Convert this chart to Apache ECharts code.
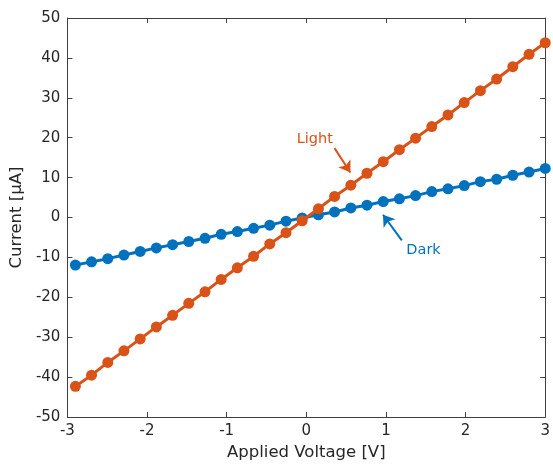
<!DOCTYPE html>
<html>
<head>
<meta charset="utf-8">
<script src="https://cdn.jsdelivr.net/npm/echarts@6/dist/echarts.min.js"></script>
<style>
html,body{margin:0;padding:0;background:#fff;}
#chart{width:553px;height:466px;}
</style>
</head>
<body>
<div id="chart"></div>
<script>
const voltage = [-2.900, -2.697, -2.493, -2.290, -2.086, -1.883, -1.679, -1.476, -1.272, -1.069,
                 -0.866, -0.662, -0.459, -0.255, -0.052, 0.152, 0.355, 0.559, 0.762, 0.966,
                 1.169, 1.372, 1.576, 1.779, 1.983, 2.186, 2.390, 2.593, 2.797, 3.000];
const lightCurrent = [-42.3, -39.5, -36.3, -33.4, -30.4, -27.4, -24.5, -21.5, -18.6, -15.5,
                      -12.6, -9.7, -6.6, -3.8, -0.8, 2.2, 5.3, 8.1, 11.1, 14.0,
                      17.0, 19.9, 22.8, 25.7, 28.8, 31.8, 34.7, 37.8, 40.9, 43.8];
const darkCurrent = [-11.9, -11.1, -10.3, -9.4, -8.5, -7.6, -6.8, -6.0, -5.2, -4.2,
                     -3.5, -2.7, -1.9, -0.9, -0.1, 0.7, 1.4, 2.4, 3.1, 4.0,
                     4.7, 5.5, 6.5, 7.2, 8.0, 9.0, 9.6, 10.6, 11.4, 12.3];
const xTicks = [-3, -2, -1, 0, 1, 2, 3];
const yTicks = [-50, -40, -30, -20, -10, 0, 10, 20, 30, 40, 50];
const seriesNames = ['Light', 'Dark'];
const lightArrow = [[0.354, 17.4], [0.553, 11.3]];
const darkArrow = [[1.199, -5.7], [0.963, 0.7]];
const lightLabelPos = [0.106, 19.6];
const darkLabelPos = [1.472, -8.2];

const ORANGE = '#D95319', BLUE = '#0072BD', AX = '#404040', TXT = '#262626';
const FONT = 'DejaVu Sans';

function pairs(xs, ys){ return xs.map((x,i)=>[x, ys[i]]); }

const axisCommon = {
  axisLine: {show:true, onZero:false, lineStyle:{color:AX, width:1}},
  axisTick: {show:true, inside:true, length:5, lineStyle:{color:AX}},
  splitLine: {show:false}
};

function arrowLine(color, pts){
  return {
    silent:true, symbol:['none','arrow'], symbolSize:11, symbolKeepAspect:true,
    lineStyle:{color:color, width:2, type:'solid'}, itemStyle:{color:color},
    label:{show:false}, emphasis:{disabled:true},
    data:[[{coord:pts[0], symbol:'none'}, {coord:pts[1], symbol:'arrow', symbolSize:11, itemStyle:{color:color}}]]
  };
}

const chart = echarts.init(document.getElementById('chart'));
chart.setOption({
  animation: false,
  backgroundColor: '#fff',
  grid: {left:65, right:5, top:18, bottom:43, containLabel:false},
  xAxis: [
    Object.assign({}, axisCommon, {
      type:'value', min:xTicks[0], max:xTicks[xTicks.length-1], interval:1, position:'bottom',
      name:'Applied Voltage [V]', nameLocation:'middle', nameGap:26,
      nameTextStyle:{fontFamily:FONT, fontSize:16.5, color:TXT},
      axisLabel:{fontFamily:FONT, fontSize:15, color:TXT, margin:7}
    }),
    Object.assign({}, axisCommon, {
      type:'value', min:xTicks[0], max:xTicks[xTicks.length-1], interval:1, position:'top',
      axisLabel:{show:false}
    })
  ],
  yAxis: [
    Object.assign({}, axisCommon, {
      type:'value', min:yTicks[0], max:yTicks[yTicks.length-1], interval:10, position:'left',
      name:'Current [μA]', nameLocation:'middle', nameGap:32,
      nameTextStyle:{fontFamily:FONT, fontSize:16.5, color:TXT},
      axisLabel:{fontFamily:FONT, fontSize:15, color:TXT, margin:7}
    }),
    Object.assign({}, axisCommon, {
      type:'value', min:yTicks[0], max:yTicks[yTicks.length-1], interval:10, position:'right',
      axisLabel:{show:false}
    })
  ],
  series: [
    {
      name: seriesNames[0], type:'line', data: pairs(voltage, lightCurrent),
      symbol:'circle', symbolSize:11, showSymbol:true,
      lineStyle:{color:ORANGE, width:3}, itemStyle:{color:ORANGE},
      z: 3,
      markLine: arrowLine(ORANGE, lightArrow),
      markPoint: {
        silent:true, symbol:'circle', symbolSize:0,
        data:[{coord:lightLabelPos, label:{show:true, formatter:seriesNames[0], color:ORANGE, fontFamily:FONT, fontSize:14.5, position:'inside'}}]
      }
    },
    {
      name: seriesNames[1], type:'line', data: pairs(voltage, darkCurrent),
      symbol:'circle', symbolSize:11, showSymbol:true,
      lineStyle:{color:BLUE, width:3}, itemStyle:{color:BLUE},
      z: 2,
      markLine: arrowLine(BLUE, darkArrow),
      markPoint: {
        silent:true, symbol:'circle', symbolSize:0,
        data:[{coord:darkLabelPos, label:{show:true, formatter:seriesNames[1], color:BLUE, fontFamily:FONT, fontSize:14.5, position:'inside'}}]
      }
    }
  ]
});
</script>
</body>
</html>
